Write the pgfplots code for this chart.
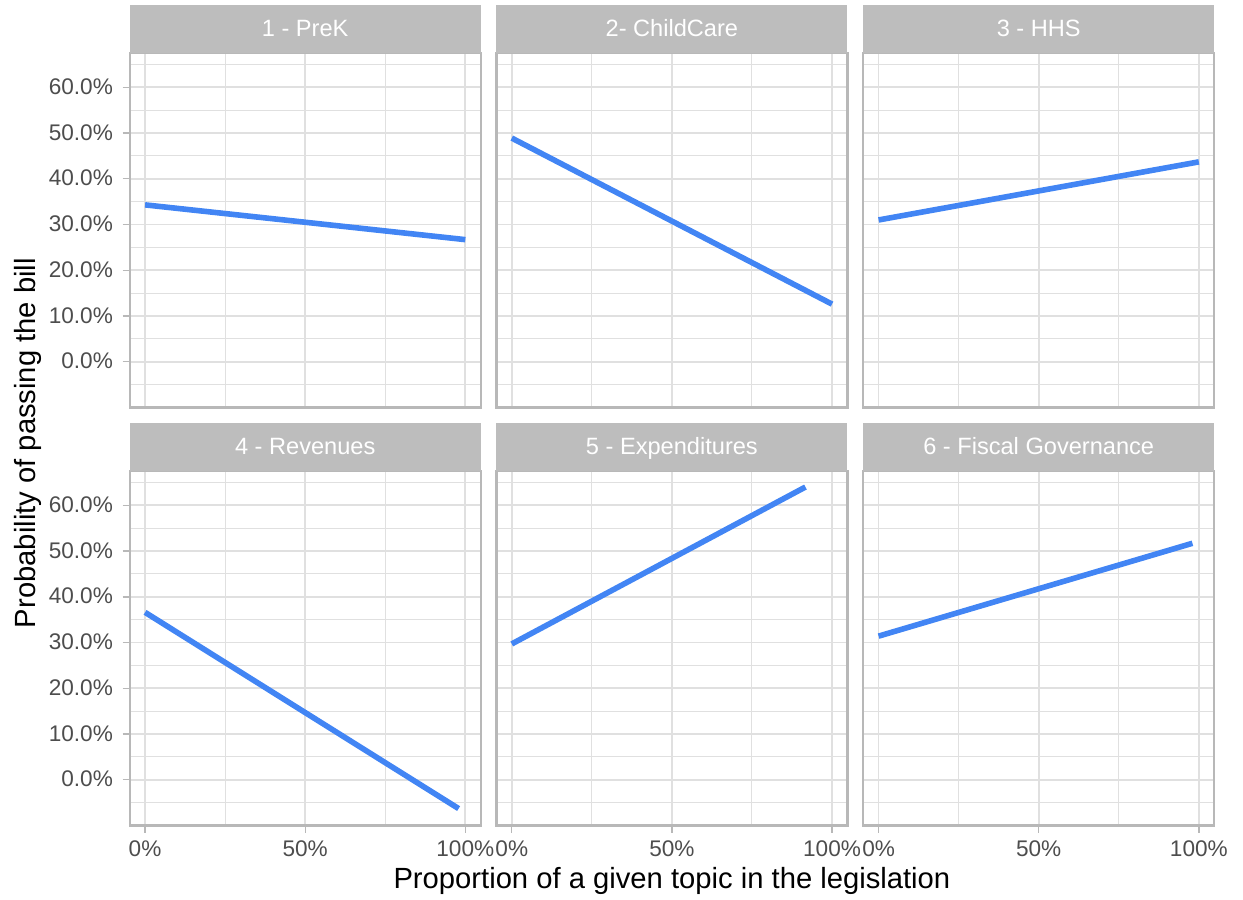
\documentclass[border=0pt]{standalone}
\usepackage{pgfplots}
\pgfplotsset{compat=1.18}
\usepackage{fontspec}
\setmainfont{Liberation Sans}

\definecolor{stripgray}{HTML}{BDBDBD}
\definecolor{bordergray}{HTML}{B8B8B8}
\definecolor{gridgray}{HTML}{E0E0E0}
\definecolor{ticktext}{HTML}{4D4D4D}
\definecolor{fitblue}{HTML}{4285F4}

\pgfplotsset{
  facet/.style={
    scale only axis, width=175.5bp, height=177.25bp,
    xmin=-4.8, xmax=104.8, ymin=-10, ymax=67.5,
    axis line style={draw=bordergray, line width=1.1bp},
    xtick={0,50,100}, ytick={0,10,...,60},
    minor xtick={25,75}, minor ytick={-5,5,...,65},
    grid=both,
    major grid style={draw=gridgray, line width=0.9bp},
    minor grid style={draw=gridgray, line width=0.5bp},
    tick align=outside, tick pos=left,
    major tick length=3.5bp, minor tick length=0pt,
    tick style={draw=bordergray, line width=0.7bp},
    xticklabels={}, yticklabels={},
    every axis title shift=0pt,
    title style={at={(rel axis cs:0.5,1)}, anchor=south, yshift=0pt,
      fill=stripgray, text=white, minimum width=175.5bp, minimum height=23.75bp,
      inner sep=0pt, text height=0.72em, text depth=0pt,
      font=\fontsize{11.8bp}{14bp}\selectfont},
    ticklabel style={font=\fontsize{11.3bp}{13bp}\selectfont, text=ticktext,
      inner sep=0pt, text height=0.72em, text depth=0pt},
    xticklabel shift=4.5bp, yticklabel shift=4.7bp,
  },
  fit/.style={draw=fitblue, line width=2.8bp, line cap=butt, no marks},
  leftcol/.style={yticklabels={0.0\%,10.0\%,20.0\%,30.0\%,40.0\%,50.0\%,60.0\%}},
  bottomrow/.style={xticklabels={0\%,50\%,100\%}},
  noyticks/.style={ytick style={draw=none}},
  noxticks/.style={xtick style={draw=none}},
}

\begin{document}
\begin{tikzpicture}
\useasboundingbox (0,0) rectangle (621.5bp,-450bp);

% Row 1
\begin{axis}[facet, leftcol, noxticks, at={(64.85bp,-26.5bp)}, anchor=north west, title={1 - PreK}]
  \addplot[fit] coordinates {(0,34.3) (100,26.7)};
\end{axis}
\begin{axis}[facet, noxticks, noyticks, at={(248.2bp,-26.5bp)}, anchor=north west, title={2- ChildCare}]
  \addplot[fit] coordinates {(0,48.9) (100,12.6)};
\end{axis}
\begin{axis}[facet, noxticks, noyticks, at={(431.6bp,-26.5bp)}, anchor=north west, title={3 - HHS}]
  \addplot[fit] coordinates {(0,31.0) (100,43.7)};
\end{axis}

% Row 2
\begin{axis}[facet, leftcol, bottomrow, at={(64.85bp,-235.5bp)}, anchor=north west, title={4 - Revenues}]
  \addplot[fit] coordinates {(0,36.6) (97.9,-6.3)};
\end{axis}
\begin{axis}[facet, bottomrow, noyticks, at={(248.2bp,-235.5bp)}, anchor=north west, title={5 - Expenditures}]
  \addplot[fit] coordinates {(0,29.7) (91.7,64.0)};
\end{axis}
\begin{axis}[facet, bottomrow, noyticks, at={(431.6bp,-235.5bp)}, anchor=north west, title={6 - Fiscal Governance}]
  \addplot[fit] coordinates {(0,31.4) (98.0,51.7)};
\end{axis}

% Shared axis titles
\node[anchor=base, font=\fontsize{14.6bp}{17bp}\selectfont] at (335.95bp,-444bp)
  {Proportion of a given topic in the legislation};
\node[anchor=base, rotate=90, font=\fontsize{14.6bp}{17bp}\selectfont] at (17.5bp,-221.5bp)
  {Probability of passing the bill};
\end{tikzpicture}
\end{document}
